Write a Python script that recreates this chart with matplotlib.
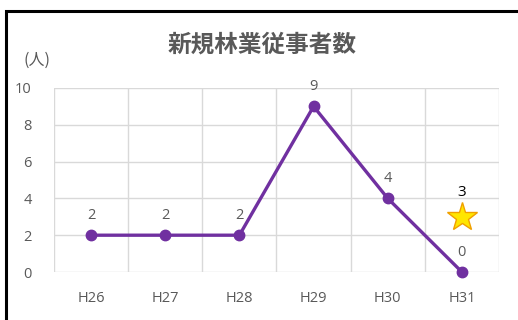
import matplotlib
matplotlib.use("Agg")
import matplotlib.pyplot as plt
from matplotlib.patches import Rectangle

plt.rcParams['font.family'] = ['Noto Sans CJK JP', 'DejaVu Sans']

years = ["H26", "H27", "H28", "H29", "H30", "H31"]
workers = [2, 2, 2, 9, 4, 0]
star_year = "H31"
star_value = 3

W, H = 518, 320
fig = plt.figure(figsize=(W / 100, H / 100), dpi=100)
fig.patch.set_facecolor("white")

# plot area in pixel terms
left, right, top, bottom = 54, 499, 88, 272
ax = fig.add_axes([left / W, 1 - bottom / H, (right - left) / W, (bottom - top) / H])

x = list(range(len(years)))
ax.plot(x, workers, color="#7030A0", lw=2.4, marker="o", ms=7.5, zorder=4, clip_on=False)
for xi, v in zip(x, workers):
    ax.annotate(str(v), (xi, v), xytext=(0, 9), textcoords="offset points",
                ha="center", va="bottom", color="#595959", fontsize=10.5,
                family=["Open Sans", "DejaVu Sans"])

sx = years.index(star_year)
ax.plot([sx], [star_value], marker="*", ms=22, color="#FFE600",
        markeredgecolor="#F0A000", markeredgewidth=1.0, zorder=5, linestyle="none")
ax.annotate(str(star_value), (sx, star_value), xytext=(0, 12), textcoords="offset points",
            ha="center", va="bottom", color="black", fontsize=11,
            family=["Open Sans", "DejaVu Sans"])

ax.set_xlim(-0.5, len(years) - 0.5)
ax.set_ylim(0, 10)
ax.set_yticks(range(0, 11, 2))
ax.set_xticks(x)
ax.set_xticklabels(years)
ax.set_xticks([i - 0.5 for i in range(len(years) + 1)], minor=True)
ax.grid(False)
ax.grid(True, which="minor", axis="x", color="#D9D9D9", lw=1)
ax.grid(True, which="major", axis="y", color="#D9D9D9", lw=1)
ax.set_axisbelow(True)
for s in ax.spines.values():
    s.set_visible(False)
ax.tick_params(which="both", length=0)
ax.tick_params(axis="x", pad=14, labelsize=10.5, labelcolor="#595959")
ax.tick_params(axis="y", pad=16, labelsize=10.5, labelcolor="#595959")
for lab in ax.get_xticklabels() + ax.get_yticklabels():
    lab.set_family(["Open Sans", "DejaVu Sans"])

fig.text(262 / W, 1 - 45 / H, "新規林業従事者数", ha="center", va="center",
         fontsize=17, fontweight="bold", color="#595959")
fig.text(37 / W, 1 - 60 / H, "(人)", ha="center", va="center",
         fontsize=11.5, color="#595959")

# outer frame
fig.patches.append(Rectangle((6 / W, -0.05), 1.2, 1 - 11 / H + 0.05,
                             transform=fig.transFigure, fill=False,
                             edgecolor="black", lw=2.2))

fig.savefig("out.png", dpi=100)
